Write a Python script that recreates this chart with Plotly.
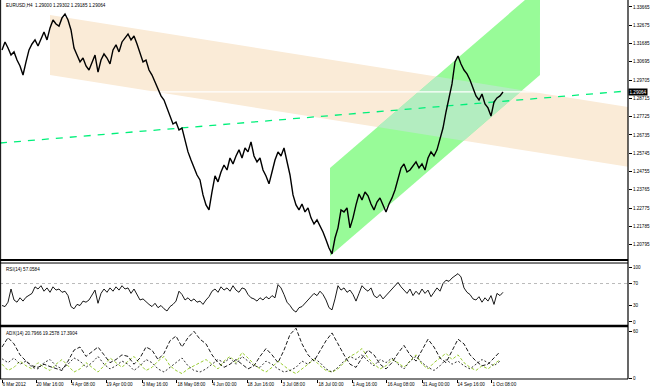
import plotly.graph_objects as go

# ---------------- data ----------------
price = [1.3134, 1.3177, 1.3144, 1.3106, 1.3123, 1.3079, 1.3047, 1.2998, 1.3069, 1.3134,
         1.3166, 1.3188, 1.3155, 1.3198, 1.3231, 1.3188, 1.3253, 1.3296, 1.3274, 1.3263,
         1.3307, 1.3328, 1.3296, 1.3242, 1.3144, 1.3106, 1.3069, 1.3090, 1.3047, 1.3025,
         1.3069, 1.3106, 1.3014, 1.3079, 1.3112, 1.3090, 1.3058, 1.3134, 1.3161, 1.3123,
         1.3177, 1.3198, 1.3220, 1.3188, 1.3209, 1.3166, 1.3123, 1.3069, 1.3079, 1.3025,
         1.2998, 1.2960, 1.2917, 1.2885, 1.2863, 1.2820, 1.2766, 1.2733, 1.2744, 1.2701,
         1.2711, 1.2647, 1.2582, 1.2538, 1.2495, 1.2457, 1.2430, 1.2349, 1.2295, 1.2268,
         1.2365, 1.2452, 1.2420, 1.2473, 1.2511, 1.2484, 1.2549, 1.2517, 1.2560, 1.2593,
         1.2549, 1.2603, 1.2582, 1.2636, 1.2560, 1.2528, 1.2549, 1.2484, 1.2452, 1.2409,
         1.2473, 1.2538, 1.2582, 1.2560, 1.2603, 1.2528, 1.2457, 1.2349, 1.2295, 1.2268,
         1.2300, 1.2257, 1.2279, 1.2225, 1.2192, 1.2214, 1.2181, 1.2149, 1.2106, 1.2062,
         1.2030, 1.2116, 1.2171, 1.2268, 1.2257, 1.2279, 1.2171, 1.2225, 1.2295, 1.2354,
         1.2322, 1.2365, 1.2344, 1.2300, 1.2268, 1.2311, 1.2333, 1.2290, 1.2257, 1.2300,
         1.2333, 1.2376, 1.2441, 1.2495, 1.2517, 1.2473, 1.2484, 1.2506, 1.2528, 1.2495,
         1.2517, 1.2484, 1.2549, 1.2582, 1.2560, 1.2593, 1.2657, 1.2711, 1.2798, 1.2874,
         1.2950, 1.3069, 1.3101, 1.3058, 1.3025, 1.3004, 1.2971, 1.2928, 1.2885, 1.2863,
         1.2895, 1.2841, 1.2820, 1.2776, 1.2852, 1.2874, 1.2885, 1.2906]

rsi = [30, 28, 36, 60, 40, 36, 44, 38, 45, 49, 52, 64, 60, 66, 56, 62, 54, 64, 58, 60,
       54, 56, 48, 28, 24, 32, 30, 38, 36, 40, 48, 58, 34, 52, 60, 54, 62, 56, 64, 58,
       66, 60, 62, 52, 60, 50, 40, 42, 36, 32, 28, 34, 26, 30, 24, 20, 28, 32, 38, 56,
       50, 40, 44, 38, 42, 36, 38, 32, 40, 46, 56, 60, 54, 64, 58, 62, 56, 66, 58, 54,
       62, 60, 50, 44, 42, 38, 44, 40, 46, 42, 48, 44, 68, 62, 50, 36, 30, 22, 18, 26,
       28, 34, 38, 44, 52, 48, 56, 50, 40, 26, 22, 42, 66, 58, 62, 54, 58, 50, 38, 52,
       66, 60, 56, 62, 48, 44, 50, 42, 48, 54, 60, 66, 72, 64, 58, 52, 60, 48, 56, 50,
       60, 52, 58, 46, 54, 62, 56, 70, 76, 74, 80, 84, 88, 82, 62, 54, 50, 42, 40, 46,
       36, 44, 38, 48, 32, 52, 48, 54]

adx = [40, 52, 44, 30, 22, 16, 14, 18, 15, 12, 10, 22, 36, 40, 28, 34, 40, 30, 20, 24,
       30, 28, 18, 26, 40, 36, 24, 32, 48, 54, 40, 52, 60, 50, 44, 30, 20, 14, 18, 24,
       18, 12, 16, 28, 38, 30, 20, 36, 56, 64, 44, 30, 22, 36, 48, 58, 44, 30, 18, 14,
       26, 36, 30, 18, 12, 20, 32, 42, 30, 22, 36, 50, 40, 26, 20, 34, 50, 44, 30, 22,
       16, 18, 26, 34]

plus_di = [25, 20, 26, 18, 22, 14, 12, 20, 24, 16, 12, 18, 26, 22, 14, 20, 28, 18, 12, 16,
           22, 18, 10, 16, 24, 20, 12, 8, 14, 20, 26, 16, 10, 8, 12, 18, 24, 20, 26, 18,
           28, 22, 16, 14, 22, 18, 12, 8, 10, 14, 22, 18, 26, 20, 12, 8, 14, 22, 28, 24,
           30, 22, 16, 24, 20, 26, 18, 12, 22, 28, 20, 14, 10, 16, 24, 18, 22, 16, 12, 18,
           24, 20, 16, 22]

minus_di = [18, 10, 14, 22, 16, 12, 20, 14, 10, 18, 24, 16, 8, 12, 20, 14, 8, 16, 26, 20,
            14, 22, 28, 18, 10, 14, 22, 28, 16, 10, 6, 12, 16, 20, 24, 18, 12, 22, 28, 20,
            33, 26, 18, 12, 8, 14, 22, 16, 10, 6, 12, 18, 24, 16, 10, 8, 12, 20, 28, 32,
            38, 26, 18, 12, 16, 24, 20, 14, 22, 30, 18, 12, 20, 26, 32, 24, 30, 20, 14, 10,
            16, 12, 18, 24]

bar = list(range(len(price)))
adx_bar = bar[::2]

time_tick_pos = [0, 11.33, 23, 34.67, 46.67, 58.33, 70, 81.67, 93.33, 105.33,
                 116.67, 128.33, 140, 151.67, 163.33]
time_tick_text = ["6 Mar 2012", "20 Mar 16:00", "4 Apr 08:00", "19 Apr 00:00",
                  "3 May 16:00", "18 May 08:00", "4 Jun 00:00", "18 Jun 16:00",
                  "3 Jul 08:00", "18 Jul 00:00", "1 Aug 16:00", "16 Aug 08:00",
                  "31 Aug 00:00", "14 Sep 16:00", "1 Oct 08:00"]

price_ticks = [1.33665 - 0.0099 * k for k in range(15)]
rsi_ticks = [100, 70, 30, 0]
rsi_levels = [70]
adx_ticks = [60, 0]

# channels (bar index, price)
beige_x = [16.0, 208.67]
beige_upper = [1.3323, 1.2825]
beige_lower = [1.2998, 1.2501]
green_x = [109.33, 179.33]
green_upper = [1.2495, 1.3474]
green_lower = [1.2019, 1.2998]
trend_x = [-0.67, 208.67]
trend_y = [1.2630, 1.2912]
current_price = 1.29064

title_text = "EURUSD,H4  1.29000 1.29302 1.29185 1.29064"
rsi_text = "RSI(14) 57.0584"
adx_text = "ADX(14) 20.7966 19.2578 17.3904"

# ---------------- helpers ----------------
def band(xs, up, lo):
    return ([xs[0], xs[1], xs[1], xs[0]], [up[0], up[1], lo[1], lo[0]])

def clip(subject, clipper):
    def inside(p, a, b):
        return (b[0]-a[0])*(p[1]-a[1]) - (b[1]-a[1])*(p[0]-a[0]) >= 0
    def inter(p1, p2, a, b):
        x1, y1 = p1; x2, y2 = p2; x3, y3 = a; x4, y4 = b
        d = (x1-x2)*(y3-y4) - (y1-y2)*(x3-x4)
        t = ((x1-x3)*(y3-y4) - (y1-y3)*(x3-x4)) / d
        return (x1 + t*(x2-x1), y1 + t*(y2-y1))
    out = subject
    n = len(clipper)
    area = sum(clipper[i][0]*clipper[(i+1) % n][1] - clipper[(i+1) % n][0]*clipper[i][1]
               for i in range(n))
    if area < 0:
        clipper = clipper[::-1]
    for i in range(n):
        a, b = clipper[i], clipper[(i+1) % n]
        inp = out
        out = []
        if not inp:
            break
        s = inp[-1]
        for e in inp:
            if inside(e, a, b):
                if not inside(s, a, b):
                    out.append(inter(s, e, a, b))
                out.append(e)
            elif inside(s, a, b):
                out.append(inter(s, e, a, b))
            s = e
    return out

S = 1000.0
bx, by = band(beige_x, beige_upper, beige_lower)
gx, gy = band(green_x, green_upper, green_lower)
poly_b = [(x, y*S) for x, y in zip(bx, by)]
poly_g = [(x, y*S) for x, y in zip(gx, gy)]
ov = clip(poly_g, poly_b)
ox = [p[0] for p in ov]
oy = [p[1]/S for p in ov]

BEIGE = "#FAEBD7"
GREEN = "#98FB98"
OVER = "#B3EDC0"
FONT = "Liberation Sans"
FS = 4.6

fig = go.Figure()
fig.add_trace(go.Scatter(x=bx, y=by, fill="toself", fillcolor=BEIGE, mode="lines",
                         line=dict(width=0), hoverinfo="skip", xaxis="x", yaxis="y"))
fig.add_trace(go.Scatter(x=gx, y=gy, fill="toself", fillcolor=GREEN, mode="lines",
                         line=dict(width=0), hoverinfo="skip", xaxis="x", yaxis="y"))
if ox:
    fig.add_trace(go.Scatter(x=ox, y=oy, fill="toself", fillcolor=OVER, mode="lines",
                             line=dict(width=0), hoverinfo="skip", xaxis="x", yaxis="y"))
fig.add_trace(go.Scatter(x=[trend_x[0], trend_x[1]], y=[current_price, current_price], mode="lines",
                         line=dict(color="white", width=1.2), hoverinfo="skip", xaxis="x", yaxis="y"))
fig.add_trace(go.Scatter(x=trend_x, y=trend_y, mode="lines",
                         line=dict(color="#00F07A", width=1.3, dash="7px,7px"),
                         hoverinfo="skip", xaxis="x", yaxis="y"))
fig.add_trace(go.Scatter(x=bar, y=price, mode="lines", line=dict(color="black", width=1.4),
                         hoverinfo="skip", xaxis="x", yaxis="y"))

# RSI
for lv in rsi_levels:
    fig.add_trace(go.Scatter(x=trend_x, y=[lv, lv], mode="lines",
                             line=dict(color="#A8A8A8", width=0.8, dash="dot"),
                             hoverinfo="skip", xaxis="x2", yaxis="y2"))
fig.add_trace(go.Scatter(x=bar, y=rsi, mode="lines", line=dict(color="black", width=0.9),
                         hoverinfo="skip", xaxis="x2", yaxis="y2"))

# ADX
fig.add_trace(go.Scatter(x=adx_bar, y=minus_di, mode="lines",
                         line=dict(color="#9ACD32", width=1, dash="3px,2px"),
                         hoverinfo="skip", xaxis="x3", yaxis="y3"))
fig.add_trace(go.Scatter(x=adx_bar, y=plus_di, mode="lines",
                         line=dict(color="black", width=0.8, dash="2px,2px"),
                         hoverinfo="skip", xaxis="x3", yaxis="y3"))
fig.add_trace(go.Scatter(x=adx_bar, y=adx, mode="lines",
                         line=dict(color="black", width=0.9, dash="4px,2px"),
                         hoverinfo="skip", xaxis="x3", yaxis="y3"))

xr = [trend_x[0], trend_x[1]]
xcommon = dict(range=xr, showgrid=False, zeroline=False, showline=False)
tickfont = dict(family=FONT, size=FS, color="black")

main_dom = [0.314, 1.0]
rsi_dom = [0.1425, 0.306]
adx_dom = [0.0, 0.137]

fig.update_layout(
    width=650, height=392,
    margin=dict(l=0, r=22, t=0, b=13, autoexpand=False),
    paper_bgcolor="white", plot_bgcolor="white",
    showlegend=False,
    xaxis=dict(**xcommon, anchor="y", showticklabels=False, ticks=""),
    xaxis2=dict(**xcommon, anchor="y2", showticklabels=False, ticks=""),
    xaxis3=dict(**xcommon, anchor="y3", tickvals=time_tick_pos, ticktext=time_tick_text,
                ticks="outside", ticklen=3, tickcolor="black", tickwidth=1, tickangle=0,
                ticklabelposition="outside right", tickfont=tickfont, automargin=False),
    yaxis=dict(domain=main_dom, anchor="x", side="right", range=[1.1997, 1.3404],
               tickvals=price_ticks, ticktext=[f"{v:.5f}" for v in price_ticks],
               ticks="outside", ticklen=3, tickcolor="black", tickfont=tickfont,
               showgrid=False, zeroline=False, showline=False, automargin=False),
    yaxis2=dict(domain=rsi_dom, anchor="x2", side="right", range=[-5.5, 107.3],
                tickvals=rsi_ticks, ticktext=[str(v) for v in rsi_ticks],
                ticks="outside", ticklen=3, tickcolor="black", tickfont=tickfont,
                showgrid=False, zeroline=False, showline=False, automargin=False),
    yaxis3=dict(domain=adx_dom, anchor="x3", side="right", range=[-0.9, 65.5],
                tickvals=adx_ticks, ticktext=[str(v) for v in adx_ticks],
                ticks="outside", ticklen=3, tickcolor="black", tickfont=tickfont,
                showgrid=False, zeroline=False, showline=False, automargin=False),
)

shapes = [
    dict(type="line", xref="paper", yref="paper", x0=1, x1=1, y0=0, y1=1,
         line=dict(color="black", width=1.2)),
    dict(type="line", xref="paper", yref="paper", x0=0.001, x1=0.001, y0=0, y1=1,
         line=dict(color="black", width=1)),
    dict(type="line", xref="paper", yref="paper", x0=0, x1=1, y0=main_dom[0], y1=main_dom[0],
         line=dict(color="black", width=2)),
    dict(type="line", xref="paper", yref="paper", x0=0, x1=1, y0=rsi_dom[1], y1=rsi_dom[1],
         line=dict(color="black", width=1)),
    dict(type="line", xref="paper", yref="paper", x0=0, x1=1, y0=0.14, y1=0.14,
         line=dict(color="black", width=2.5)),
    dict(type="line", xref="paper", yref="paper", x0=0, x1=1, y0=0, y1=0,
         line=dict(color="black", width=1)),
]
fig.update_layout(shapes=shapes)

ann = [
    dict(text=title_text, xref="paper", yref="paper", x=0.006, y=0.998, xanchor="left",
         yanchor="top", showarrow=False, font=dict(family=FONT, size=FS, color="black")),
    dict(text=rsi_text, xref="paper", yref="paper", x=0.006, y=rsi_dom[1] - 0.004,
         xanchor="left", yanchor="top", showarrow=False,
         font=dict(family=FONT, size=FS, color="black")),
    dict(text=adx_text, xref="paper", yref="paper", x=0.006, y=adx_dom[1] - 0.004,
         xanchor="left", yanchor="top", showarrow=False,
         font=dict(family=FONT, size=FS, color="black")),
    dict(text=f"{current_price:.5f}", xref="paper", yref="y", x=1.0, y=current_price,
         xanchor="left", yanchor="middle", showarrow=False, bgcolor="black",
         borderpad=0.5, font=dict(family=FONT, size=FS, color="white")),
]
fig.update_layout(annotations=ann)

fig.write_html("out.html", config={"displayModeBar": False},
               post_script="document.body.style.margin='0px';document.body.style.overflow='hidden';")
